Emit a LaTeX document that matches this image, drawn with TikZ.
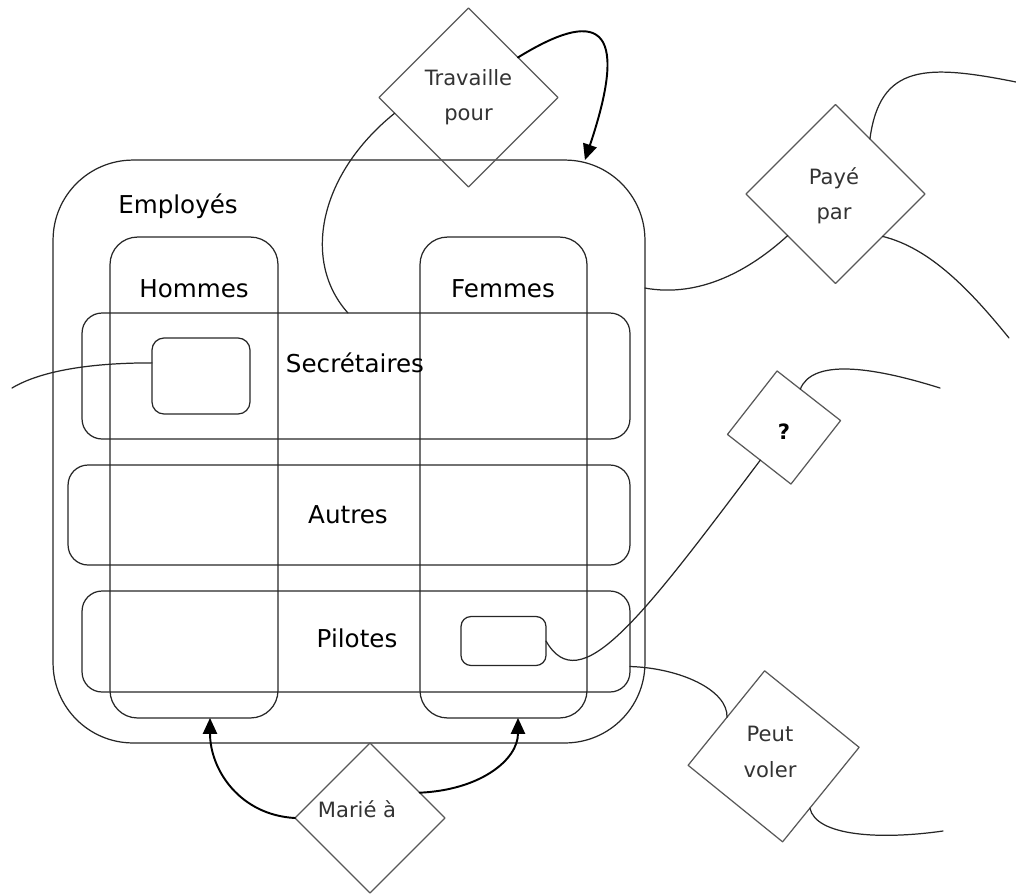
\documentclass[tikz,border=0pt]{standalone}
\usepackage{fontspec}
\setmainfont{DejaVu Sans}
\usetikzlibrary{arrows.meta, calc, positioning, shapes.geometric}
\definecolor{setline}{HTML}{262626}
\definecolor{relline}{HTML}{585858}
\tikzset{
  >={Triangle[length=9pt, width=8pt]},
  every picture/.style={line cap=round, line join=round},
  setbox/.style={draw=setline, line width=0.7pt, inner sep=0pt, outer sep=0pt},
  setlabel/.style={font=\fontsize{14}{17}\selectfont, anchor=base, inner sep=0pt},
  % relationships: empty diamond, text put on top as its own node
  rel/.style={diamond, draw=relline, line width=0.7pt, inner sep=0pt, outer sep=0pt},
  reltext/.style={font=\fontsize{12}{20}\selectfont, text=black!80, align=center, inner sep=0pt},
  link/.style={draw=setline, line width=0.7pt},
  isa/.style={->, black, line width=1.1pt},
}

\begin{document}
\begin{tikzpicture}[x=0.02cm, y=-0.02cm]
  \useasboundingbox (0,0) rectangle (1016,893);
  % ---------- sets (one unit = one pixel of the drawing, y downwards)
  \node[setbox, minimum width=11.84cm, minimum height=11.66cm, rounded corners=1.6cm] (emp) at (349,451.5) {};
  \node[setbox, minimum width=3.36cm, minimum height=9.62cm, rounded corners=0.55cm] (hom) at (194,477.5) {};
  \node[setbox, minimum width=3.34cm, minimum height=9.62cm, rounded corners=0.55cm] (fem) at (503.5,477.5) {};
  \node[setbox, minimum width=10.96cm, minimum height=2.52cm, rounded corners=0.4cm] (sec) at (356,376) {};
  \node[setbox, minimum width=11.24cm, minimum height=2cm, rounded corners=0.4cm] (aut) at (349,515) {};
  \node[setbox, minimum width=10.96cm, minimum height=2.02cm, rounded corners=0.4cm] (pil) at (356,641.5) {};
  \node[setbox, minimum width=1.96cm, minimum height=1.52cm, rounded corners=0.24cm] (secx) at (201,376) {};
  \node[setbox, minimum width=1.7cm, minimum height=0.98cm, rounded corners=0.2cm] (pilx) at (503.5,641) {};
  \node[setlabel] (empl) at (178,213) {Employés};
  \node[setlabel] (homl) at (194,297) {Hommes};
  \node[setlabel] (feml) at (503,297) {Femmes};
  \node[setlabel] (secl) at (355,372) {Secrétaires};
  \node[setlabel] (autl) at (348,523) {Autres};
  \node[setlabel] (pill) at (357,647) {Pilotes};
  % ---------- relationships
  \node[rel, minimum size=3.58cm] (trav) at (468.5,97.5) {};
  \node[reltext] (travt) at (trav) {Travaille\\pour};
  \node[rel, minimum size=3.58cm] (paye) at (835.5,194) {};
  \node[reltext] (payet) at (834,196) {Payé\\par};
  \node[rel, minimum size=2.28cm, rotate=7] (quoi) at (784,427.5) {};
  \node[reltext, font=\bfseries\fontsize{12}{20}\selectfont, text=black] (quoit) at (784,432) {?};
  \node[rel, minimum size=3.44cm, rotate=6] (vol) at (773.6,756.3) {};
  \node[reltext] (volt) at (770,752) {Peut\\voler};
  \node[rel, minimum size=3cm] (mar) at (370,818) {};
  \node[reltext, anchor=base] (mart) at (357,817) {Marié à};
  % loose ends
  \coordinate (payeA) at (1016,82);
  \coordinate (payeB) at (1009,338);
  \coordinate (quoiA) at (940,388);
  \coordinate (secA) at (12,388);
  \coordinate (volA) at (943,831);
  % ---------- connectors
  \draw[link] (trav.192) .. controls (318,175) and (302,262) .. ($(sec.north)+(-8,0)$);
  \draw[isa] (trav.39) .. controls (595,10) and (632,20) .. ($(emp.north east)+(-60,0)$);
  \draw[link] ($(emp.north east)+(0,128)$) .. controls (700,298) and (750,270) .. (paye.221);
  \draw[link] (paye.58) .. controls +(10,-75) and +(-90,-18) .. (payeA);
  \draw[link] (paye.318) .. controls (930,248) and (970,290) .. (payeB);
  \draw[link] (quoi.60) .. controls +(12,-30) and +(-70,-22) .. (quoiA);
  \draw[link] (pilx.east) .. controls (580,700) and (640,620) .. (quoi.227);
  \draw[link] (secx.165) .. controls +(-80,0) and +(20,-12) .. (secA);
  \draw[link] ($(pil.east)+(0,25)$) .. controls (680,668) and (728,690) .. (vol.134);
  \draw[link] (vol.299) .. controls +(6,28) and +(-63,9) .. (volA);
  \draw[isa] (mar.west) .. controls (240,815) and (210,770) .. ($(hom.south)+(16,0)$);
  \draw[isa] (mar.27) .. controls (480,790) and (518,760) .. ($(fem.south)+(14.5,0)$);
\end{tikzpicture}
\end{document}
